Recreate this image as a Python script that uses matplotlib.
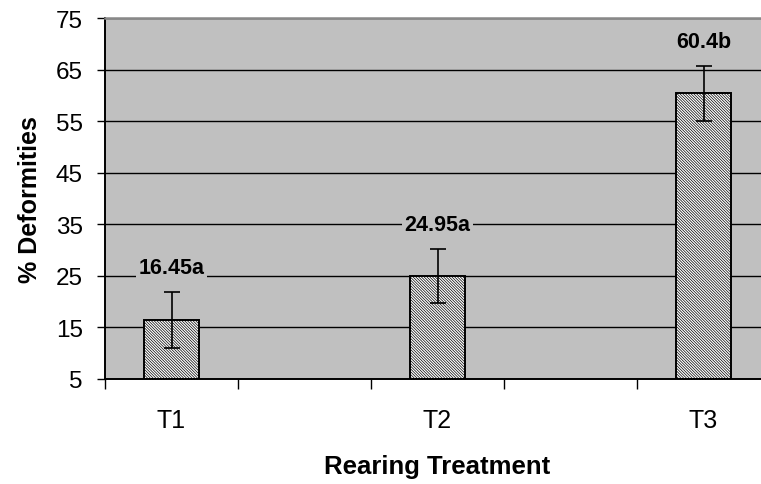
import numpy as np
import matplotlib as mpl
import matplotlib.pyplot as plt

mpl.use('Agg')
plt.rcParams['font.family'] = ['Liberation Sans', 'DejaVu Sans']
plt.rcParams['hatch.linewidth'] = 0.5
plt.rcParams['hatch.color'] = '#333333'

# data
treatments = ['T1', 'T2', 'T3']
deformities = [16.45, 24.95, 60.4]
errors = [5.45, 5.3, 5.3]
letters = ['a', 'a', 'b']
yticks = [5, 15, 25, 35, 45, 55, 65, 75]

# excel style axis: a blank slot between every treatment
slots = np.arange(len(treatments)) * 2

fig = plt.figure(figsize=(7.61, 4.85), dpi=100)
ax = fig.add_axes([105 / 761, 105 / 485, 665 / 761, 361 / 485])
ax.set_facecolor('#C0C0C0')

ax.bar(slots, [v - 5 for v in deformities], bottom=5, width=0.41,
       color='white', edgecolor='black', linewidth=1.4, hatch='\\' * 12,
       zorder=2)
ax.errorbar(slots, deformities, yerr=errors, fmt='none', ecolor='black',
            elinewidth=1.2, capsize=6, capthick=1.2, zorder=3)

for x, v, e, l in zip(slots, deformities, errors, letters):
    ax.annotate('{}{}'.format(v, l), xy=(x, v + e), xytext=(0, 17.5),
                textcoords='offset points', ha='center', va='center',
                fontsize=15.5, fontweight='bold', zorder=4,
                bbox=dict(boxstyle='square,pad=0.12', fc='#C0C0C0', ec='none'))

ax.set_xlim(-0.5, 2 * len(treatments) - 1.5)
ax.set_ylim(5, 75)
ax.set_yticks(yticks)
ax.set_xticks(np.arange(-0.5, 2 * len(treatments) - 1, 1.0))
ax.set_xticklabels([])
ax.set_xticks(slots, minor=True)
ax.set_xticklabels(treatments, minor=True)
ax.tick_params(axis='x', which='major', direction='out', length=7, width=1)
ax.tick_params(axis='x', which='minor', length=0, pad=21, labelsize=18)
ax.tick_params(axis='y', direction='out', length=6, width=1, labelsize=17.5, pad=10)

ax.yaxis.grid(True, color='black', linewidth=1)
ax.set_axisbelow(True)

for s in ['left', 'bottom']:
    ax.spines[s].set_color('black')
    ax.spines[s].set_linewidth(1.4)
ax.spines['top'].set_color('#888888')
ax.spines['top'].set_linewidth(1.8)
ax.spines['right'].set_visible(False)

ax.set_xlabel('Rearing Treatment', fontsize=18.5, fontweight='bold', labelpad=16)
ax.set_ylabel('% Deformities', fontsize=18, fontweight='bold', labelpad=10)

fig.savefig('out.png', dpi=100)
